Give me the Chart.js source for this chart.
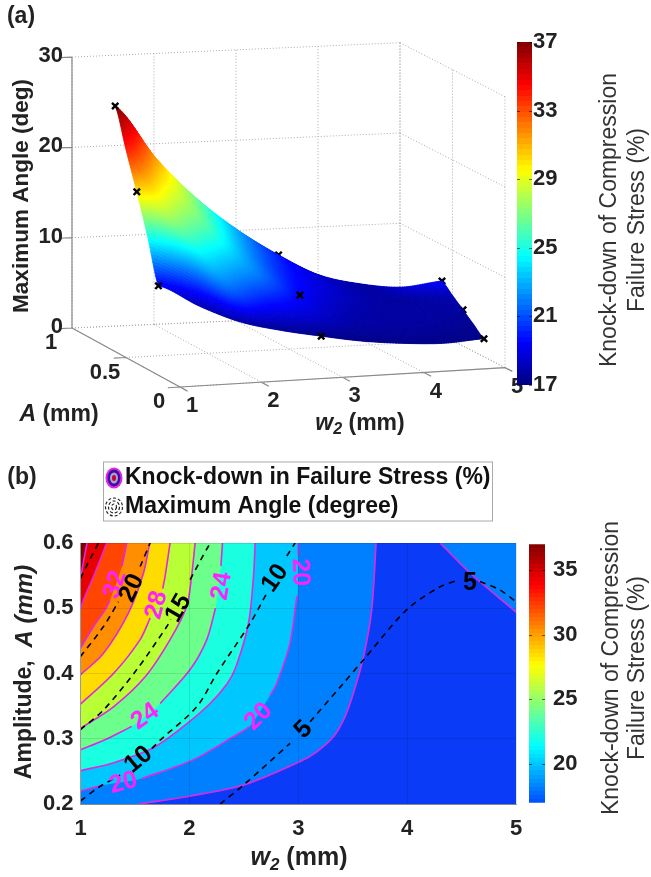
<!DOCTYPE html>
<html>
<head>
<meta charset="utf-8">
<title>Knock-down of compression failure stress</title>
<script src="https://cdn.jsdelivr.net/npm/chart.js@4"></script>
<style>
  html, body { margin: 0; background: #fff; }
  #page { position: relative; width: 651px; height: 877px; overflow: hidden; filter: blur(0.5px); }
  canvas { position: absolute; }
</style>
</head>
<body>
<div id="page">
  <canvas id="surface" width="651" height="440" style="left:0;top:0"></canvas>
  <canvas id="barTop" width="60" height="383" style="left:517px;top:22px"></canvas>
  <canvas id="contour" width="651" height="427" style="left:0;top:450px"></canvas>
  <canvas id="barBottom" width="61" height="301" style="left:529px;top:523px"></canvas>
</div>
<script>
// (a) grid: rows are amplitude, columns are w2
const gridW = [1, 1.5, 2, 2.5, 3, 3.5, 4, 4.5, 5];
const gridA = [0.2, 0.3, 0.4, 0.5, 0.6];
const angleRows = [
  [9.9, 7.4, 5.4, 4.2, 3.3, 2.5, 2.0, 1.75, 2.0],
  [14.7, 11.9, 8.3, 6.3, 4.9, 3.75, 3.05, 2.7, 3.0],
  [19.0, 15.1, 11.4, 8.9, 6.6, 5.05, 4.05, 3.65, 4.0],
  [23.0, 18.6, 14.1, 10.8, 8.1, 6.4, 5.1, 4.7, 5.0],
  [27.2, 21.2, 16.5, 12.8, 9.8, 7.35, 6.15, 5.55, 6.0]
];
const knockRows = [
  [19.4, 18.1, 17.8, 17.5, 17.3, 17.2, 17.2, 17.2, 17.2],
  [25.0, 23.2, 21.5, 19.6, 18.6, 17.8, 17.6, 17.5, 17.4],
  [30.1, 27.0, 23.9, 21.8, 19.5, 18.2, 17.7, 17.7, 17.6],
  [34.0, 29.5, 26.0, 22.4, 19.9, 18.6, 17.8, 17.7, 18.1],
  [37.0, 31.3, 26.5, 22.7, 20.0, 18.5, 17.7, 18.6, 19.5]
];
// measured points marked with a cross, the back ones sit partly behind the surface
const frontW = [1, 1, 1, 3, 3, 5];
const frontA = [0.6, 0.4, 0.2, 0.4, 0.2, 0.2];
const frontZ = [27.2, 19.0, 9.9, 6.6, 3.3, 2.0];
const backW = [3, 5, 5];
const backA = [0.6, 0.6, 0.4];
const backZ = [9.8, 6.0, 4.0];

const wTicks = [1, 2, 3, 4, 5];
const aTicks3d = [0, 0.5, 1];
const zTicks = [0, 10, 20, 30];
const xTicks = [1, 2, 3, 4, 5];
const yTicks = [0.2, 0.3, 0.4, 0.5, 0.6];
const barTicksTop = [17, 21, 25, 29, 33, 37];
const barTicksBottom = [20, 25, 30, 35];
const barRange = [17, 37];

// (b) knock-down contours as [w2, A], null = gap left for a label
const k18 = [[1.533,.2],[2.0,.212],[2.497,.229],[3.017,.265],[3.17,.28],[3.323,.303],[3.43,.334],[3.507,.37],[3.6,.426],[3.675,.498],[3.715,.6]];
const k18b = [[4.303,.6],[4.578,.554],[5,.494]];
const k20 = [[1,.22],[1.211,.229],null,[1.563,.239],[2.038,.268],[2.451,.308],[2.55,.318],null,[2.74,.366],[2.803,.385],[2.925,.447],[2.985,.515],[2.995,.52],null,[3.0,.58],[3.0,.6]];
const k22 = [[1,.251],[1.3,.263],[1.655,.285],[1.946,.319],[2.19,.354],[2.35,.385],[2.43,.411],[2.543,.477],[2.589,.549],[2.604,.6]];
const k24 = [[1,.283],[1.22,.298],[1.471,.319],null,[1.732,.354],[2.007,.406],[2.16,.452],[2.24,.5],null,[2.29,.565],[2.304,.6]];
const k26 = [[1,.316],[1.303,.349],[1.594,.395],[1.823,.452],[1.976,.503],[2.02,.549],[2.053,.6]];
const k28 = [[1,.353],[1.303,.40],[1.548,.452],[1.64,.485],null,[1.755,.53],[1.777,.549],[1.823,.6]];
const k30 = [[1,.398],[1.211,.431],[1.441,.493],[1.579,.554],[1.635,.6]];
const k32 = [[1,.439],[1.119,.472],[1.227,.498],[1.27,.512],null,[1.38,.564],[1.425,.6]];
const k34 = [[1,.5],[1.05,.522],[1.118,.548],[1.18,.574],[1.24,.6]];
const k36 = [[1,.546],[1.03,.574],[1.06,.6]];

// (b) maximum angle contours
const ang5 = [[2.283,.2],[2.497,.229],[2.925,.293],null,[3.109,.326],[3.415,.385],[3.6,.421],[3.997,.498],[4.303,.533],[4.45,.542],null,[4.67,.541],[4.853,.528],[5,.51]];
const ang10 = [[1,.205],[1.18,.227],[1.364,.244],null,[1.655,.285],[1.732,.298],[2.068,.349],[2.252,.4],[2.558,.477],[2.711,.523],null,[2.895,.58],[2.971,.6]];
const ang15 = [[1,.314],[1.211,.344],[1.517,.406],[1.793,.472],[1.83,.483],null,[2.007,.544],[2.175,.595],[2.206,.6]];
const ang20 = [[1,.426],[1.211,.472],[1.349,.51],null,[1.548,.564],[1.64,.6]];
const ang25 = [[1,.546],[1.08,.573],[1.165,.6]];

// contour labels: text, w2, A, rotation in degrees
const pinkLabels = [['32',1.318,.536,-72],['28',1.70,.505,-75],['24',2.298,.534,-80],['20',3.017,.555,88],
                    ['24',1.594,.334,-35],['20',1.395,.232,-15],['20',2.635,.334,-45]];
const blackLabels = [['20',1.471,.531,-65],['15',1.90,.5,-60],['10',2.788,.546,-55],['10',1.533,.268,-40],
                     ['5',3.048,.314,-45],['5',4.578,.539,0]];

const FAMILY = '"Liberation Sans", Arial, sans-serif';
const LINE_PINK = '#e028e0';
const TEXT_DARK = '#222';

function jet(t){
  const c = v => Math.round(255*Math.max(0, Math.min(1, v)));
  return `rgb(${c(1.5-Math.abs(4*t-3))},${c(1.5-Math.abs(4*t-2))},${c(1.5-Math.abs(4*t-1))})`;
}

// fixed camera for the 3d box, gives view units that match the canvas
function view(w, a, z){
  return {
    x: 72 + (w-1)*82 + (1-a)*(108-(w-1)*0.75),
    y: 328 - (w-1)*3.6 + (1-a)*(59-(w-1)*1.25) - z*9.03
  };
}

function spline(values, t){
  const n = values.length;
  const i = Math.min(n-2, Math.floor(t));
  const f = t - i;
  const p0 = values[Math.max(0, i-1)], p1 = values[i], p2 = values[i+1], p3 = values[Math.min(n-1, i+2)];
  return p1 + 0.5*f*(p2-p0 + f*(2*p0-5*p1+4*p2-p3 + f*(3*(p1-p2)+p3-p0)));
}
function sample(rows, w, a){
  const tw = (w-gridW[0])/(gridW[1]-gridW[0]);
  const ta = (a-gridA[0])/(gridA[1]-gridA[0]);
  return spline(rows.map(r => spline(r, tw)), ta);
}

function text(ctx, runs, x, y, rot){
  // runs: [string, font, dy] drawn one after another, centred on x,y
  ctx.save();
  ctx.translate(x, y);
  ctx.rotate((rot||0)*Math.PI/180);
  ctx.textBaseline = 'middle';
  ctx.textAlign = 'left';
  let total = 0;
  runs.forEach(r => { ctx.font = r[1]; total += ctx.measureText(r[0]).width; });
  let pos = -total/2;
  runs.forEach(r => {
    ctx.font = r[1];
    ctx.fillText(r[0], pos, r[2]||0);
    pos += ctx.measureText(r[0]).width;
  });
  ctx.restore();
}

function segments(list){
  const out = [];
  list.forEach(s => {
    const p = view(s[0], s[1], s[2]), q = view(s[3], s[4], s[5]);
    out.push(p, q, {x:null, y:null});
  });
  return out;
}

// ---- panel (a) ----
const wallLines = [];
zTicks.forEach(z => { wallLines.push([1,1,z,5,1,z], [5,1,z,5,0,z]); });
wTicks.forEach(w => { wallLines.push([w,1,0,w,1,30], [w,1,0,w,0,0]); });
aTicks3d.forEach(a => { wallLines.push([5,a,0,5,a,30], [1,a,0,5,a,0]); });

const axisLines = [[1,1,0,1,1,30],[1,1,0,1,0,0],[1,0,0,5,0,0],[5,0,0,5,-0.07,0]];
zTicks.forEach(z => axisLines.push([1,1,z,0.85,1,z]));
wTicks.forEach(w => axisLines.push([w,0,0,w,-0.07,0]));
aTicks3d.forEach(a => axisLines.push([1,a,0,0.85,a,0]));

const surfacePlugin = {
  id: 'surfacePlugin',
  beforeDatasetDraw(chart, args){
    if(args.index !== 0) return;
    const ctx = chart.ctx, sx = chart.scales.x, sy = chart.scales.y;
    const px = (w, a) => {
      const v = view(w, a, sample(angleRows, w, a));
      return [sx.getPixelForValue(v.x), sy.getPixelForValue(v.y)];
    };
    const nw = 200, na = 60;
    ctx.save();
    for(let j = na-1; j >= 0; j--){
      for(let i = 0; i < nw; i++){
        const w0 = 1+4*i/nw, w1 = 1+4*(i+1)/nw, a0 = .2+.4*j/na, a1 = .2+.4*(j+1)/na;
        const col = jet((sample(knockRows, (w0+w1)/2, (a0+a1)/2)-17)/20);
        const c = [px(w0,a0), px(w1,a0), px(w1,a1), px(w0,a1)];
        ctx.beginPath();
        ctx.moveTo(c[0][0], c[0][1]);
        for(let k = 1; k < 4; k++) ctx.lineTo(c[k][0], c[k][1]);
        ctx.closePath();
        ctx.fillStyle = col;
        ctx.strokeStyle = col;
        ctx.lineWidth = 0.8;
        ctx.fill();
        ctx.stroke();
      }
    }
    ctx.restore();
  },
  afterDraw(chart){
    const ctx = chart.ctx, sx = chart.scales.x, sy = chart.scales.y;
    const tickFont = `bold 22px ${FAMILY}`;
    const bold = `bold 23px ${FAMILY}`, boldIt = `italic bold 23px ${FAMILY}`;
    ctx.save();
    ctx.fillStyle = TEXT_DARK;
    zTicks.forEach(z => {
      const v = view(1, 1, z);
      const w = (ctx.font = tickFont, ctx.measureText(String(z)).width);
      text(ctx, [[String(z), tickFont]], sx.getPixelForValue(v.x)-9-w/2, sy.getPixelForValue(v.y)-1);
    });
    aTicks3d.forEach(a => {
      const v = view(1, a, 0);
      text(ctx, [[String(a), tickFont]], sx.getPixelForValue(v.x)-21, sy.getPixelForValue(v.y)+15);
    });
    wTicks.forEach(w => {
      const v = view(w, 0, 0);
      text(ctx, [[String(w), tickFont]], sx.getPixelForValue(v.x)+12, sy.getPixelForValue(v.y)+19);
    });
    text(ctx, [['(a)', bold]], 21, 17);
    text(ctx, [['Maximum Angle (deg)', `bold 22.5px ${FAMILY}`]], 22, 196, -90);
    text(ctx, [['A', boldIt], [' (mm)', bold]], 59, 415);
    text(ctx, [['w', boldIt], ['2', `italic bold 16px ${FAMILY}`, 6], [' (mm)', bold]], 360, 424);
    ctx.fillStyle = '#333';
    text(ctx, [['Knock-down of Compression', `23px ${FAMILY}`]], 610, 220, -90);
    text(ctx, [['Failure Stress (%)', `23px ${FAMILY}`]], 638, 220, -90);
    ctx.restore();
  }
};

const crossStyle = {showLine:false, pointStyle:'crossRot', pointRadius:4.5, pointBorderColor:'#000', pointBorderWidth:2.4};
new Chart(document.getElementById('surface'), {
  type: 'line',
  data: {
    datasets: [
      Object.assign({label:'points', data: frontW.map((w,i) => view(w, frontA[i], frontZ[i]))}, crossStyle),
      Object.assign({label:'points behind', data: backW.map((w,i) => view(w, backA[i], backZ[i]))}, crossStyle),
      {label:'axes', data: segments(axisLines), borderColor:'#8a8a8a', borderWidth:1.2, pointRadius:0},
      {label:'walls', data: segments(wallLines), borderColor:'#aaa', borderWidth:1, borderDash:[1,2], pointRadius:0}
    ]
  },
  options: {
    responsive: false, animation: false,
    plugins: { legend:{display:false}, tooltip:{enabled:false} },
    layout: { padding: 0, autoPadding: false },
    scales: {
      x: { type:'linear', display:false, min:0, max:651 },
      y: { type:'linear', display:false, min:0, max:440, reverse:true }
    }
  },
  plugins: [surfacePlugin]
});

// ---- colour bars ----
const barTickMarks = {
  id: 'barTickMarks',
  afterDatasetsDraw(chart){
    const ctx = chart.ctx, a = chart.chartArea, s = chart.scales.y;
    ctx.save();
    ctx.strokeStyle = 'rgba(0,0,0,.55)';
    s.ticks.forEach(t => {
      const y = Math.round(s.getPixelForValue(t.value))+.5;
      ctx.beginPath();
      ctx.moveTo(a.left, y); ctx.lineTo(a.left+3, y);
      ctx.moveTo(a.right-3, y); ctx.lineTo(a.right, y);
      ctx.stroke();
    });
    ctx.restore();
  }
};
function colourBar(id, ticks, jetStart, tickPad){
  return new Chart(document.getElementById(id), {
    type: 'bar',
    data: {
      labels: [''],
      datasets: [{
        data: [barRange],
        barPercentage: 1, categoryPercentage: 1, borderWidth: 0,
        backgroundColor(c){
          const area = c.chart.chartArea;
          if(!area) return '#000';
          const g = c.chart.ctx.createLinearGradient(0, area.bottom, 0, area.top);
          for(let i = 0; i < 64; i++){
            const col = jet(jetStart + (1-jetStart)*(i+.5)/64);
            g.addColorStop(i/64, col);
            g.addColorStop((i+1)/64, col);
          }
          return g;
        }
      }]
    },
    options: {
      responsive: false, animation: false,
      plugins: { legend:{display:false}, tooltip:{enabled:false} },
      layout: { padding:{top:20, bottom:20, left:0, right:0} },
      scales: {
        x: { display:false },
        y: {
          position:'right', min:barRange[0], max:barRange[1],
          afterBuildTicks(s){ s.ticks = ticks.map(v => ({value:v})); },
          afterFit(s){ s.width = 45; },
          border:{display:false},
          grid:{drawOnChartArea:false, drawTicks:false},
          ticks:{padding:tickPad, color:TEXT_DARK, font:{family:FAMILY, size:22, weight:'bold'}, autoSkip:false, maxRotation:0}
        }
      }
    },
    plugins: [barTickMarks]
  });
}
colourBar('barTop', barTicksTop, 0, 1);
colourBar('barBottom', barTicksBottom, 0.2, 8);

// ---- panel (b) ----
const toPts = c => c.map(p => p ? {x:p[0], y:p[1]} : {x:null, y:null});
const bands = [
  [k36, '#800000'], [k34, '#e60000'], [k32, '#ff4500'], [k30, '#ff8f00'], [k28, '#ffdc00'],
  [k26, '#b9ff36'], [k24, '#6dff8c'], [k22, '#1affe0'], [k20, '#00c8ff'],
  [k18b, '#0080ff'], [[[1,.2]].concat(k18), '#0080ff']
];
const dashedSets = [ang5, ang10, ang15, ang20, ang25].map(c => ({
  data: toPts(c), borderColor:'#000', borderWidth:1.6, borderDash:[6,5], pointRadius:0, tension:.3, fill:false
}));
const strokeSets = [k18, k18b, k20, k22, k24, k26, k28, k30, k32, k34, k36].map(c => ({
  data: toPts(c), borderColor:LINE_PINK, borderWidth:1.6, pointRadius:0, tension:.3, fill:false
}));
const fillSets = bands.map(b => ({
  data: toPts(b[0].filter(Boolean)), borderWidth:0, pointRadius:0, tension:.3,
  backgroundColor:b[1], fill:{value:.6}
}));

const contourPlugin = {
  id: 'contourPlugin',
  beforeDatasetsDraw(chart){
    const a = chart.chartArea;
    chart.ctx.save();
    chart.ctx.fillStyle = '#0a3cf8';
    chart.ctx.fillRect(a.left, a.top, a.width, a.height);
    chart.ctx.restore();
  },
  afterDraw(chart){
    const ctx = chart.ctx, sx = chart.scales.x, sy = chart.scales.y;
    const bold = `bold 23px ${FAMILY}`, boldIt = `italic bold 25px ${FAMILY}`, labelFont = `bold 25px ${FAMILY}`;
    ctx.save();
    ctx.fillStyle = '#ff22ff';
    pinkLabels.forEach(l => text(ctx, [[l[0], labelFont]], sx.getPixelForValue(l[1]), sy.getPixelForValue(l[2]), l[3]));
    ctx.fillStyle = '#000';
    blackLabels.forEach(l => text(ctx, [[l[0], labelFont]], sx.getPixelForValue(l[1]), sy.getPixelForValue(l[2]), l[3]));

    // legend box
    ctx.fillStyle = '#fff';
    ctx.strokeStyle = '#aaa';
    ctx.lineWidth = 1;
    ctx.fillRect(103.5, 12, 389, 59);
    ctx.strokeRect(103.5, 12, 389, 59);
    [[8.5,10.5,'#e028e0'],[6.5,8.5,'#3a10a8'],[4,5.5,'#b0a0c8'],[2,3,'#c00040']].forEach(r => {
      ctx.beginPath();
      ctx.ellipse(114, 28, r[0], r[1], 0, 0, 2*Math.PI);
      ctx.fillStyle = r[2];
      ctx.fill();
    });
    ctx.strokeStyle = '#222';
    ctx.setLineDash([3,2]);
    ctx.lineWidth = 1.2;
    [[8.5,9],[5.5,6],[2.5,3]].forEach(r => {
      ctx.beginPath();
      ctx.ellipse(114, 57, r[0], r[1], 0, 0, 2*Math.PI);
      ctx.stroke();
    });
    ctx.setLineDash([]);
    ctx.fillStyle = '#111';
    ctx.textBaseline = 'middle';
    ctx.textAlign = 'left';
    ctx.font = bold;
    ctx.fillText('Knock-down in Failure Stress (%)', 125, 28);
    ctx.fillText('Maximum Angle (degree)', 125, 57);

    ctx.fillStyle = TEXT_DARK;
    text(ctx, [['(b)', bold]], 22, 28);
    text(ctx, [['Amplitude,  ', bold], ['A (mm)', `italic bold 24px ${FAMILY}`]], 25, 222, -90);
    text(ctx, [['w', boldIt], ['2', `italic bold 17px ${FAMILY}`, 7], [' (mm)', `bold 25px ${FAMILY}`]], 299, 408);
    ctx.fillStyle = '#333';
    text(ctx, [['Knock-down of Compression', `23px ${FAMILY}`]], 612, 218, -90);
    text(ctx, [['Failure Stress (%)', `23px ${FAMILY}`]], 638, 218, -90);
    ctx.restore();
  }
};

new Chart(document.getElementById('contour'), {
  type: 'line',
  data: { datasets: dashedSets.concat(strokeSets, fillSets) },
  options: {
    responsive: false, animation: false,
    plugins: { legend:{display:false}, tooltip:{enabled:false} },
    layout: { padding:{top:93, right:135, left:0, bottom:0}, autoPadding:false },
    scales: {
      x: {
        type:'linear', min:1, max:5,
        afterBuildTicks(s){ s.ticks = xTicks.map(v => ({value:v})); },
        afterFit(s){ s.height = 73; },
        grid:{z:1, color:'rgba(0,0,0,.1)', drawTicks:false},
        border:{color:'#999', z:1},
        ticks:{padding:12, color:TEXT_DARK, maxRotation:0, font:{family:FAMILY, size:22, weight:'bold'}}
      },
      y: {
        type:'linear', min:.2, max:.6,
        afterBuildTicks(s){ s.ticks = yTicks.map(v => ({value:v})); },
        afterFit(s){ s.width = 80.5; },
        grid:{z:1, color:'rgba(0,0,0,.1)', drawTicks:false},
        border:{color:'#999', z:1},
        ticks:{padding:7, color:TEXT_DARK, font:{family:FAMILY, size:22, weight:'bold'},
               callback: v => v.toFixed(1)}
      }
    }
  },
  plugins: [contourPlugin]
});
</script>
</body>
</html>
